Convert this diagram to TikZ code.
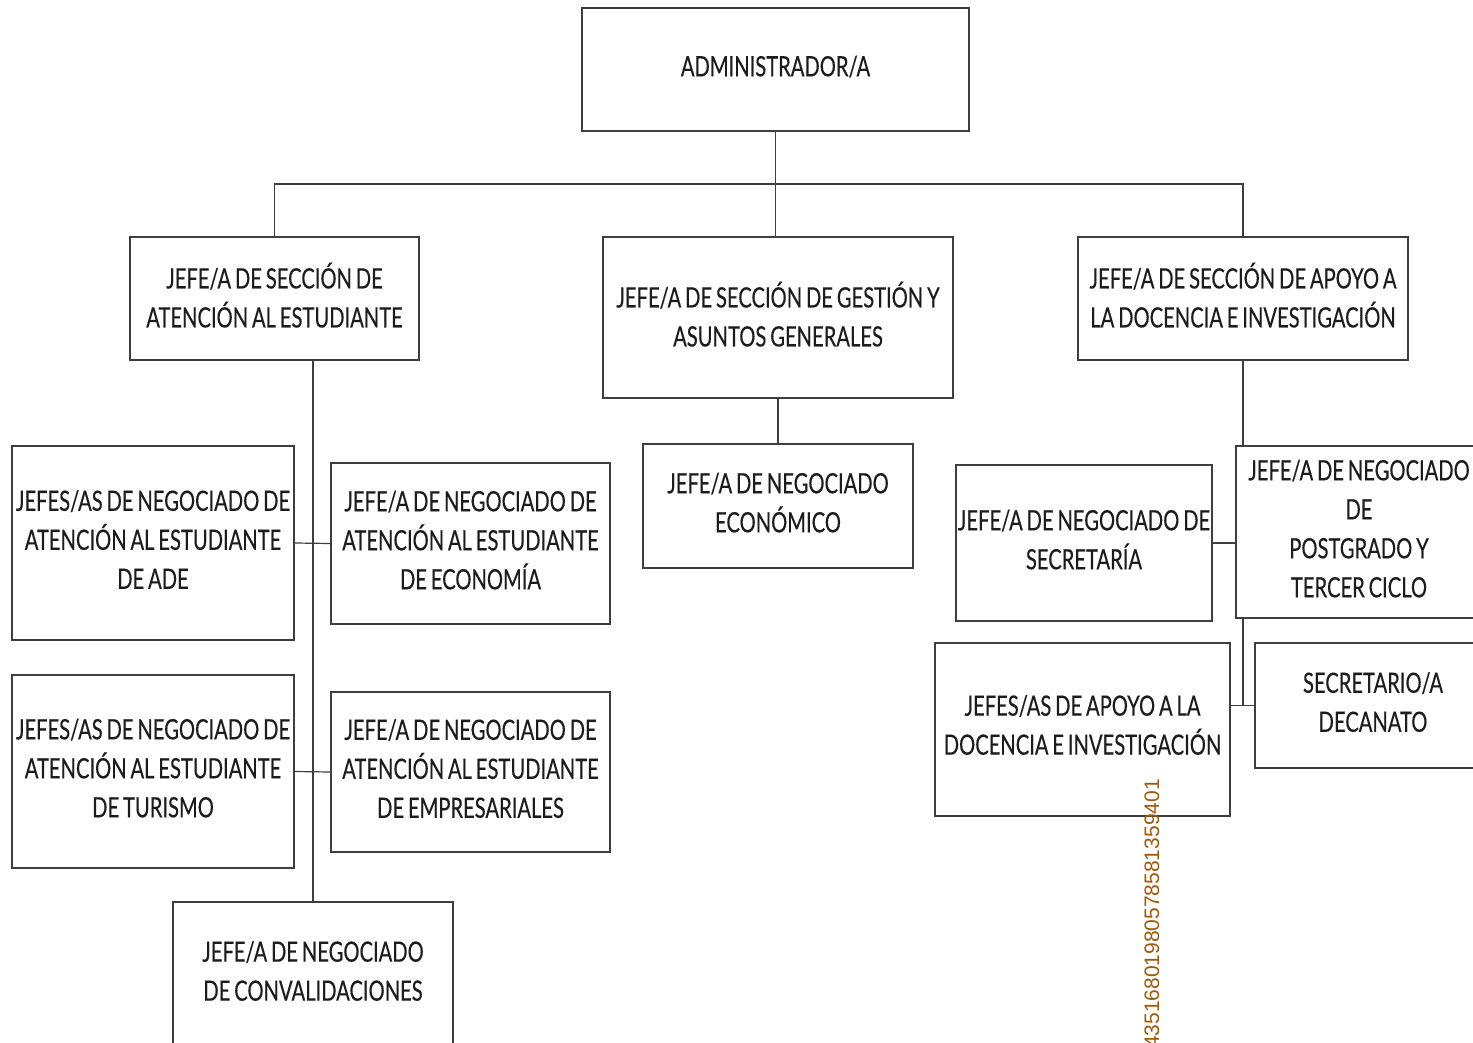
\documentclass[tikz,border=0pt]{standalone}
\usepackage{fontspec}
\setmainfont{Lato}[FakeStretch=0.72, WordSpace=0.75, FakeBold=0.3]
\newfontfamily\numfont{Liberation Sans}
\definecolor{ink}{RGB}{30,27,28}
\definecolor{edge}{RGB}{62,62,62}
\definecolor{numc}{RGB}{155,90,16}
\begin{document}
\begin{tikzpicture}[x=1pt,y=-1pt,
  box/.style={draw=edge, line width=1.4pt, fill=white, text=ink, align=center, inner sep=0pt,
              text depth=7pt, font=\fontsize{28}{39}\selectfont},
  lbl/.style={text=ink, align=center, inner sep=0pt, font=\fontsize{28}{39}\selectfont},
  link/.style={draw=edge, line width=1.2pt}]
\useasboundingbox (0,0) rectangle (1473,1043);
\clip (0,0) rectangle (1473,1043);
\fill[white] (0,0) rectangle (1473,1043);
% top
\node[box, minimum width=387pt, minimum height=123pt] (admin) at (775.5,69.5) {ADMINISTRADOR/A};
% sections
\node[box, minimum width=289pt, minimum height=123pt] (secA) at (274.5,298.5) {JEFE/A DE SECCIÓN DE\\ATENCIÓN AL ESTUDIANTE};
\node[box, minimum width=350pt, minimum height=161pt] (secB) at (778,317.5) {JEFE/A DE SECCIÓN DE GESTIÓN Y\\ASUNTOS GENERALES};
\node[box, minimum width=330pt, minimum height=123pt] (secC) at (1243,298.5) {JEFE/A DE SECCIÓN DE APOYO A\\LA DOCENCIA E INVESTIGACIÓN};
% left branch
\node[box, minimum width=282pt, minimum height=194pt] (ade) at (153,543) {JEFES/AS DE NEGOCIADO DE\\ATENCIÓN AL ESTUDIANTE\\DE ADE};
\node[box, minimum width=279pt, minimum height=161pt] (eco) at (470.5,543.5) {JEFE/A DE NEGOCIADO DE\\ATENCIÓN AL ESTUDIANTE\\DE ECONOMÍA};
\node[box, minimum width=282pt, minimum height=193pt] (tur) at (153,771.5) {JEFES/AS DE NEGOCIADO DE\\ATENCIÓN AL ESTUDIANTE\\DE TURISMO};
\node[box, minimum width=279pt, minimum height=160pt] (emp) at (470.5,772) {JEFE/A DE NEGOCIADO DE\\ATENCIÓN AL ESTUDIANTE\\DE EMPRESARIALES};
\node[box, minimum width=280pt, minimum height=160pt] (conv) at (313,982) {};
\node[lbl] (convt) at (313,971) {JEFE/A DE NEGOCIADO\\DE CONVALIDACIONES};
% middle branch
\node[box, minimum width=270pt, minimum height=124pt] (econ) at (778,506) {JEFE/A DE NEGOCIADO\\ECONÓMICO};
% right branch
\node[box, minimum width=256pt, minimum height=156pt] (secr) at (1084,543) {JEFE/A DE NEGOCIADO DE\\SECRETARÍA};
\node[box, minimum width=246pt, minimum height=172pt] (pg) at (1359,532) {JEFE/A DE NEGOCIADO\\DE\\POSTGRADO Y\\TERCER CICLO};
\node[box, minimum width=295pt, minimum height=173pt] (apoyo) at (1082.5,729.5) {};
\node[lbl] (apoyot) at (1082.5,725) {JEFES/AS DE APOYO A LA\\DOCENCIA E INVESTIGACIÓN};
\node[box, minimum width=236pt, minimum height=125pt] (dec) at (1373,705.5) {SECRETARIO/A\\DECANATO};
% connectors
\draw[link] (admin.south) -- (admin.south |- secB.north);
\draw[link] (secA.north) |- (admin.south |- 0,184) -| (secC.north);
\draw[link] (conv.north) -- (conv.north |- secA.south);
\draw[link] (ade.east) -- (eco.west);
\draw[link] (tur.east) -- (emp.west);
\draw[link] (secB.south) -- (econ.north);
\draw[link] (secC.south) -- (secC.south |- pg.north);
\draw[link] (secr.east) -- (secr.east -| pg.west);
\draw[link] (secC.south |- pg.south) -- (secC.south |- dec.west);
\draw[link] (apoyo.east |- dec.west) -- (dec.west);
% vertical id number (cut by the lower edge, as in the reference)
\node[rotate=90, anchor=east, text=numc, inner sep=0pt, font=\numfont\fontsize{21}{21}\selectfont] (num) at (1152,779) {43516801980578581359401};
\end{tikzpicture}
\end{document}
